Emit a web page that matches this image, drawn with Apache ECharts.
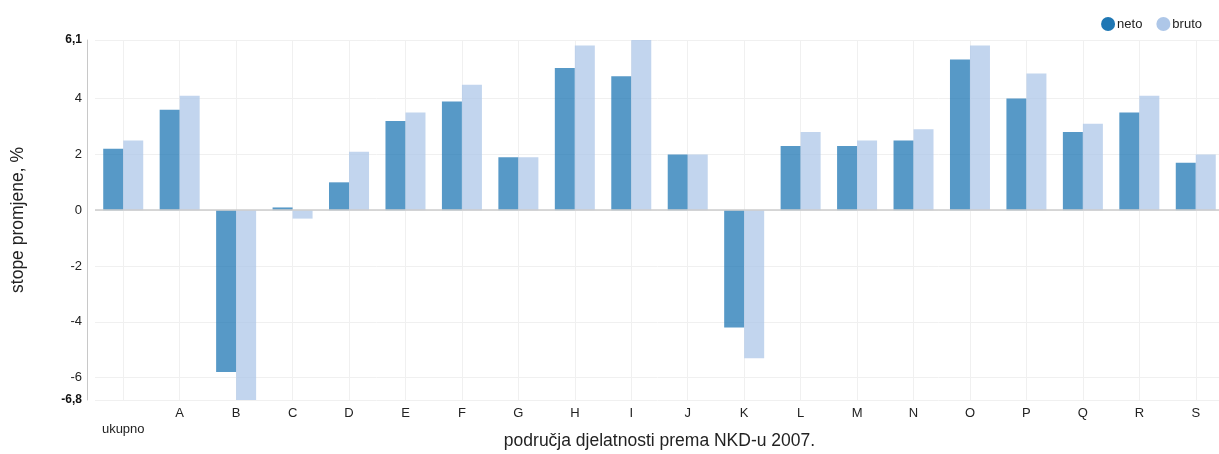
<!DOCTYPE html>
<html>
<head>
<meta charset="utf-8">
<script src="https://cdn.jsdelivr.net/npm/echarts@6/dist/echarts.min.js"></script>
<style>
  html, body { margin: 0; padding: 0; background: #fff; }
  #charts { width: 1219px; height: 454px; }
</style>
</head>
<body>
<div id="charts"></div>
<script>
var categories = ['ukupno', 'A', 'B', 'C', 'D', 'E', 'F', 'G', 'H', 'I', 'J', 'K', 'L', 'M', 'N', 'O', 'P', 'Q', 'R', 'S'];
var neto = [2.2, 3.6, -5.8, 0.1, 1.0, 3.2, 3.9, 1.9, 5.1, 4.8, 2.0, -4.2, 2.3, 2.3, 2.5, 5.4, 4.0, 2.8, 3.5, 1.7];
var bruto = [2.5, 4.1, -6.8, -0.3, 2.1, 3.5, 4.5, 1.9, 5.9, 6.1, 2.0, -5.3, 2.8, 2.5, 2.9, 5.9, 4.9, 3.1, 4.1, 2.0];
var yTicks = [-6.8, -6, -4, -2, 0, 2, 4, 6.1];

var font = '"Liberation Sans", Arial, sans-serif';
var myChart = echarts.init(document.getElementById('charts'));

var option = {
  animation: false,
  textStyle: { fontFamily: font },
  legend: {
    top: 12,
    right: 12,
    icon: 'circle',
    itemWidth: 14,
    itemHeight: 14,
    itemGap: 14,
    itemStyle: { opacity: 1 },
    textStyle: { fontSize: 13, color: '#222', padding: [0, 0, 0, -3] },
    data: [
      { name: 'neto', itemStyle: { color: '#1f77b4', opacity: 1 } },
      { name: 'bruto', itemStyle: { color: '#aec7e8', opacity: 1 } }
    ]
  },
  grid: { left: 95, right: -5, top: 40, bottom: 54, containLabel: false, outerBoundsMode: 'none' },
  xAxis: {
    type: 'category',
    data: categories,
    name: 'područja djelatnosti prema NKD-u 2007.',
    nameLocation: 'middle',
    nameMoveOverlap: false,
    nameGap: 32,
    nameTextStyle: { fontSize: 17.5, color: '#222' },
    axisLine: { show: false },
    axisTick: { show: false },
    axisLabel: {
      margin: 5,
      fontSize: 13,
      color: '#222',
      formatter: function (v, i) { return i === 0 ? '\n' + v : v; },
      lineHeight: 16
    },
    splitLine: { show: true, alignWithLabel: true, lineStyle: { color: '#f0f0f0' } }
  },
  yAxis: {
    type: 'value',
    min: -6.8,
    max: 6.1,
    offset: 8,
    name: 'stope promjene, %',
    nameLocation: 'middle',
    nameMoveOverlap: false,
    nameGap: 60,
    nameTextStyle: { fontSize: 17.5, color: '#222' },
    axisLine: { show: true, lineStyle: { color: '#c8c8c8' } },
    axisTick: { show: false, customValues: yTicks },
    axisLabel: {
      customValues: yTicks,
      fontSize: 13,
      color: '#222',
      margin: 5,
      formatter: function (v) {
        var s = String(Math.round(v * 10) / 10).replace('.', ',');
        return (v === -6.8 || v === 6.1) ? '{b|' + s + '}' : s;
      },
      rich: { b: { fontWeight: 'bold', fontSize: 12, color: '#111' } }
    },
    splitLine: { show: true, lineStyle: { color: '#f0f0f0' } }
  },
  series: [
    {
      name: 'neto',
      type: 'bar',
      data: neto,
      barWidth: 20,
      barGap: '0%',
      itemStyle: { color: '#1f77b4', opacity: 0.75 },
      markLine: {
        silent: true,
        symbol: 'none',
        label: { show: false },
        lineStyle: { color: '#cccccc', type: 'solid', width: 1.5 },
        data: [{ yAxis: 0 }]
      }
    },
    {
      name: 'bruto',
      type: 'bar',
      data: bruto,
      barWidth: 20,
      barGap: '0%',
      itemStyle: { color: '#aec7e8', opacity: 0.75 }
    }
  ]
};

myChart.setOption(option);
</script>
</body>
</html>
